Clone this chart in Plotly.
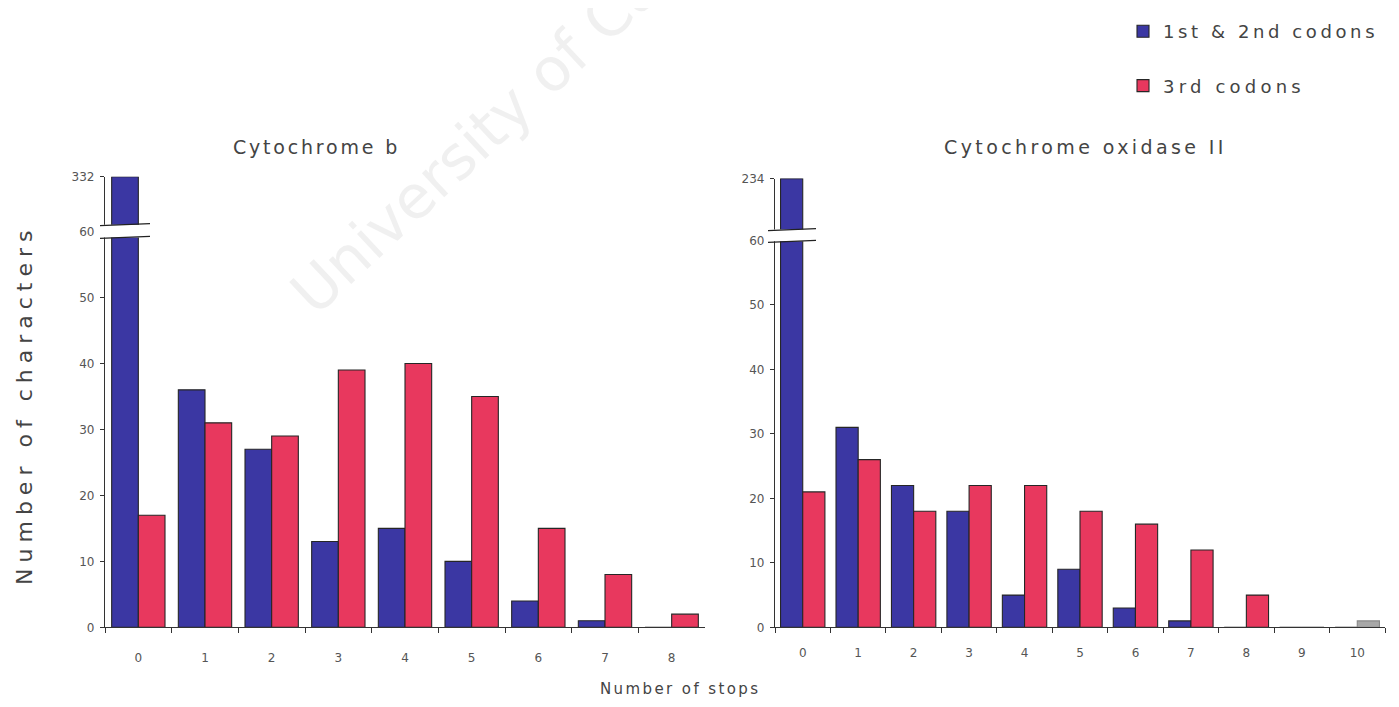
import plotly.graph_objects as go

# ---------------- data ----------------
stops_cytb = ["0", "1", "2", "3", "4", "5", "6", "7", "8"]
cytb_12 = [332, 36, 27, 13, 15, 10, 4, 1, 0]
cytb_3 = [17, 31, 29, 39, 40, 35, 15, 8, 2]

stops_coii = ["0", "1", "2", "3", "4", "5", "6", "7", "8", "9", "10"]
coii_12 = [234, 31, 22, 18, 5, 9, 3, 1, 0, 0, 0]
coii_3 = [21, 26, 18, 22, 22, 18, 16, 12, 5, 0, 1]

left_ticks = [0, 10, 20, 30, 40, 50, 60]
right_ticks = [0, 10, 20, 30, 40, 50, 60]

series_names = ["1st & 2nd codons", "3rd codons"]
BLUE = "#3b37a3"
RED = "#e8385e"
GREY = "#a8a8a8"

# page has an 8px body margin: fit the figure inside the 1399x707 window
OFF = 8
W, H = 1399 - 2 * OFF, 707 - 2 * OFF
def px(x):
    return (x - OFF) / W
def py(y):
    return 1 - (y - OFF) / H

FONT = "DejaVu Sans, Verdana, sans-serif"
TXT = "#444444"

def spaced(s, ls):
    return '<span style="letter-spacing:%spx">%s</span>' % (ls, s)

fig = go.Figure()

line_style = dict(color="#262626", width=1.1)
coii_3_colors = [RED] * (len(coii_3) - 1) + [GREY]
coii_3_lines = ["#262626"] * (len(coii_3) - 1) + ["#888888"]

# left panel: lower (x,y) and upper (x,y2)
for ya, show in (("y", True), ("y2", False)):
    fig.add_trace(go.Bar(x=stops_cytb, y=cytb_12, name=spaced(series_names[0], 3.6),
                         marker=dict(color=BLUE, line=line_style),
                         xaxis="x", yaxis=ya, showlegend=show,
                         legendgroup="a", hoverinfo="x+y"))
    fig.add_trace(go.Bar(x=stops_cytb, y=cytb_3, name=spaced(series_names[1], 4.2),
                         marker=dict(color=RED, line=line_style),
                         xaxis="x", yaxis=ya, showlegend=show,
                         legendgroup="b", hoverinfo="x+y"))
# right panel: lower (x2,y3) and upper (x2,y4)
for ya in ("y3", "y4"):
    fig.add_trace(go.Bar(x=stops_coii, y=coii_12, name=series_names[0],
                         marker=dict(color=BLUE, line=line_style),
                         xaxis="x2", yaxis=ya, showlegend=False,
                         legendgroup="a", hoverinfo="x+y"))
    fig.add_trace(go.Bar(x=stops_coii, y=coii_3, name=series_names[1],
                         marker=dict(color=coii_3_colors,
                                     line=dict(color=coii_3_lines, width=1.1)),
                         xaxis="x2", yaxis=ya, showlegend=False,
                         legendgroup="b", hoverinfo="x+y"))

xcommon = dict(type="category", showline=True, linecolor="#333", linewidth=1.2,
               ticks="outside", tickson="boundaries", ticklen=5, tickcolor="#333",
               tickfont=dict(family=FONT, size=12, color="#555"), showgrid=False,
               zeroline=False)
ycommon = dict(showline=True, linecolor="#333", linewidth=1.2, ticks="outside",
               ticklen=4, tickcolor="#333", showgrid=False, zeroline=False,
               tickfont=dict(family=FONT, size=12, color="#555"),
               ticklabelstandoff=3)

fig.update_layout(
    width=W, height=H,
    margin=dict(l=0, r=0, t=0, b=0),
    paper_bgcolor="white", plot_bgcolor="rgba(0,0,0,0)",
    barmode="group", bargap=0.2, bargroupgap=0,
    xaxis=dict(domain=[px(105), px(705)], anchor="y", ticklabelstandoff=19, **xcommon),
    yaxis=dict(domain=[py(633), py(229)], anchor="x", range=[0, 60],
               tickvals=left_ticks, **ycommon),
    yaxis2=dict(domain=[py(223), py(173)], anchor="x", range=[325, 332],
                tickvals=[332], **ycommon),
    xaxis2=dict(domain=[px(775), px(1385)], anchor="y3", ticklabelstandoff=14, **xcommon),
    yaxis3=dict(domain=[py(633), py(238)], anchor="x2", range=[0, 60],
                tickvals=right_ticks, **ycommon),
    yaxis4=dict(domain=[py(228), py(175)], anchor="x2", range=[228, 234],
                tickvals=[234], **ycommon),
    showlegend=True,
    legend=dict(x=px(1123), y=py(6), xanchor="left", yanchor="top",
                font=dict(family=FONT, size=18, color="#444"),
                tracegroupgap=28, traceorder="grouped",
                bgcolor="rgba(0,0,0,0)", itemwidth=30),
    font=dict(family=FONT, color=TXT),
)

# axis break marks
shapes = []
for (x0, x1, ytop, ybot) in ((100, 150, 222, 235), (768, 816, 227, 239)):
    shapes.append(dict(type="rect", xref="paper", yref="paper",
                       x0=px(x0), x1=px(x1), y0=py(ybot), y1=py(ytop),
                       fillcolor="white", line=dict(width=0), layer="above"))
    shapes.append(dict(type="line", xref="paper", yref="paper",
                       x0=px(x0), x1=px(x1), y0=py(ytop + 1), y1=py(ytop - 1),
                       line=dict(color="#222", width=1.3), layer="above"))
    shapes.append(dict(type="line", xref="paper", yref="paper",
                       x0=px(x0), x1=px(x1), y0=py(ybot + 1), y1=py(ybot - 1),
                       line=dict(color="#222", width=1.3), layer="above"))
fig.update_layout(shapes=shapes)

def ann(text, x, y, size, ls, angle=0, color="#444"):
    return dict(text=spaced(text, ls), x=px(x), y=py(y), xref="paper", yref="paper",
                xanchor="center", yanchor="middle", textangle=angle,
                showarrow=False, font=dict(family=FONT, size=size, color=color))

annotations = [
    ann("Cytochrome b", 316, 143, 19, 2.8),
    ann("Cytochrome oxidase II", 1085, 143, 19, 3.4),
    ann("Number of characters", 25, 406, 22, 6.0, angle=-90),
    ann("Number of stops", 680, 696, 15, 2.4),
    ann("University of Cape Town", 565, 50, 60, 0, angle=-43,
        color="rgba(185,185,185,0.22)"),
]
fig.update_layout(annotations=annotations)

fig.write_html("out.html")
